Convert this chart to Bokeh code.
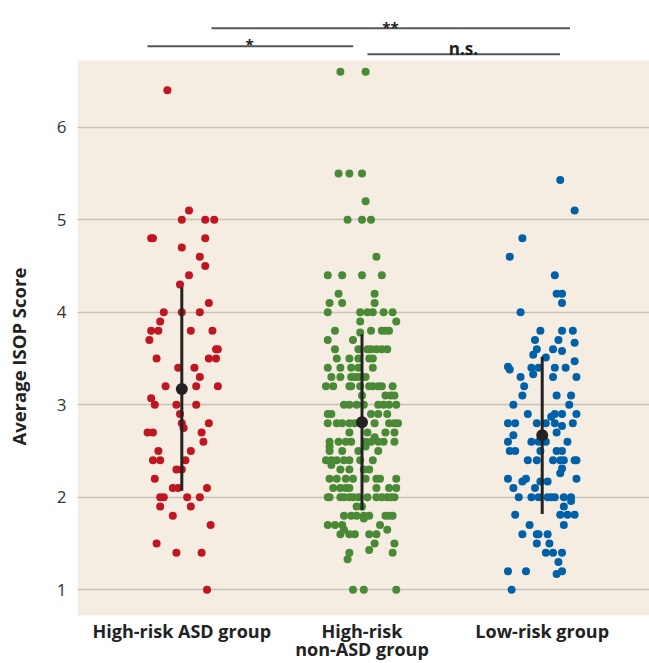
import math
from bokeh.plotting import figure
from bokeh.layouts import row
from bokeh.models import (Range1d, FixedTicker, BoxAnnotation, ColumnDataSource)
from bokeh.core.properties import value
from bokeh.embed import file_html
from bokeh.resources import INLINE

# ---------------- data ----------------
groups_line1 = ["High-risk ASD group", "High-risk", "Low-risk group"]
groups_line2 = ["", "non-ASD group", ""]
group_pos = [1, 2, 3]
colors = ["#BF1622", "#4A8A36", "#0061A9"]
y_title = "Average ISOP Score"

means = [3.17, 2.81, 2.67]
sds = [1.10, 0.95, 0.85]

red_y = [6.4, 5.1, 5.0, 5.0, 5.0, 4.8, 4.8, 4.8, 4.7, 4.6, 4.5, 4.4, 4.3, 4.1,
         4.0, 4.0, 4.0, 3.9, 3.8, 3.8, 3.8, 3.8, 3.7, 3.6, 3.6, 3.5, 3.5, 3.5,
         3.4, 3.4, 3.3, 3.2, 3.2, 3.2, 3.07, 3.0, 3.0, 3.0, 2.9, 2.8, 2.75, 2.8,
         2.7, 2.7, 2.7, 2.6, 2.5, 2.5, 2.4, 2.4, 2.4, 2.3, 2.3, 2.2, 2.1, 2.1,
         2.1, 2.0, 2.0, 2.0, 2.0, 1.9, 1.9, 1.8, 1.7, 1.5, 1.4, 1.4, 1.0]
red_jit = [-0.08, 0.04, 0.00, 0.13, 0.18, -0.17, -0.16, 0.13, 0.00, 0.10, 0.13, 0.04, -0.01, 0.15,
           -0.10, 0.00, 0.10, -0.12, -0.17, -0.13, 0.05, 0.17, -0.18, 0.19, 0.20, -0.14, 0.15, 0.19,
           -0.02, 0.07, 0.10, -0.09, 0.08, 0.20, -0.17, -0.15, -0.03, 0.08, -0.01, 0.00, 0.01, 0.15,
           -0.19, -0.16, 0.11, 0.12, -0.13, 0.05, -0.16, -0.12, 0.02, -0.03, 0.00, -0.15, -0.05, -0.02,
           0.14, -0.12, -0.10, 0.03, 0.10, -0.12, 0.05, -0.05, 0.16, -0.14, -0.03, 0.11, 0.14]

green_y = ([6.6] * 2 + [5.5] * 3 + [5.2] + [5.0] * 3 + [4.6] + [4.4] * 4 + [4.2] * 2 +
           [4.1] * 3 + [4.0] * 6 + [3.9] * 2 + [3.8] * 5 + [3.78] + [3.7] * 2 + [3.6] * 7 +
           [3.5] * 5 + [3.4] * 5 + [3.3] * 6 + [3.2] * 10 + [3.1] * 4 + [3.0] * 8 + [2.9] * 5 +
           [2.8] * 9 + [2.7] * 4 + [2.65] + [2.6] * 9 + [2.55] * 2 + [2.5] * 4 + [2.4] * 7 +
           [2.35] + [2.3] * 4 + [2.2] * 8 + [2.1] * 7 + [2.0] * 13 + [1.9] * 2 + [1.8] * 8 +
           [1.77] + [1.7] * 4 + [1.65] * 2 + [1.6] * 5 + [1.5] * 2 + [1.43] + [1.4] * 2 +
           [1.33] + [1.0] * 3)
green_jit = [-0.12, 0.02,
             -0.13, -0.07, 0.00,
             0.02,
             -0.08, 0.00, 0.05,
             0.08,
             -0.19, -0.11, 0.00, 0.11,
             -0.13, 0.07,
             -0.18, -0.11, 0.07,
             -0.19, -0.01, 0.03, 0.06, 0.12, 0.17,
             -0.01, 0.19,
             -0.15, 0.05, 0.11, 0.13, 0.15,
             -0.01,
             -0.19, -0.05,
             -0.15, -0.02, 0.03, 0.05, 0.08, 0.11, 0.14,
             -0.14, -0.07, -0.02, 0.04, 0.06,
             -0.19, -0.12, -0.06, -0.02, 0.06,
             -0.17, -0.12, -0.06, -0.04, -0.02, 0.02,
             -0.20, -0.16, -0.07, -0.06, -0.01, 0.04, 0.06, 0.09, 0.11, 0.17,
             0.00, 0.13, 0.16, 0.18,
             -0.10, -0.07, -0.03, 0.01, 0.09, 0.12, 0.15, 0.19,
             -0.19, -0.17, 0.05, 0.09, 0.14,
             -0.19, -0.14, -0.11, -0.07, -0.04, 0.07, 0.15, 0.18, 0.20,
             -0.07, 0.03, 0.13, 0.18,
             0.07,
             -0.18, -0.13, -0.09, -0.06, 0.02, 0.05, 0.09, 0.12, 0.18,
             -0.18, 0.02,
             -0.18, -0.11, -0.02, 0.09,
             -0.20, -0.17, -0.14, -0.10, -0.07, -0.01, 0.06,
             -0.17,
             -0.12, -0.07, 0.01, 0.04,
             -0.18, -0.14, -0.09, -0.05, 0.02, 0.08, 0.10, 0.19,
             -0.16, -0.12, -0.09, -0.07, 0.08, 0.15, 0.19,
             -0.19, -0.18, -0.12, -0.10, -0.07, -0.05, -0.02, 0.03, 0.08, 0.11, 0.14, 0.16, 0.18,
             -0.03, 0.00,
             -0.10, -0.06, -0.03, 0.01, 0.04, 0.13, 0.15, 0.17,
             0.01,
             -0.19, -0.15, -0.11, 0.10,
             -0.10, 0.14,
             -0.12, -0.07, -0.04, 0.04, 0.08,
             0.07, 0.18,
             0.04,
             -0.07, 0.17,
             -0.08,
             -0.05, 0.01, 0.19]

blue_y = ([5.43, 5.1, 4.8, 4.6, 4.4] + [4.2] * 2 + [4.1, 4.0] + [3.8] * 3 + [3.7] * 2 +
          [3.67] + [3.6] * 2 + [3.58, 3.54, 3.51, 3.47, 3.41, 3.38] + [3.4] * 4 + [3.33] +
          [3.3] * 3 + [3.2] + [3.1] * 3 + [3.0] * 2 + [2.9] * 4 + [2.87] + [2.8] * 6 +
          [2.77, 2.7, 2.67] + [2.6] * 5 + [2.5] * 5 + [2.4] * 7 + [2.31, 2.26] + [2.2] * 3 +
          [2.17] * 3 + [2.1] * 2 + [2.0] * 8 + [1.96, 1.9] + [1.81] * 4 + [1.7] * 2 +
          [1.6] * 4 + [1.5] * 2 + [1.4] * 3 + [1.3] + [1.2] * 3 + [1.17, 1.0])
blue_jit = [0.10, 0.18, -0.11, -0.18, 0.07,
            0.08, 0.11,
            0.11, -0.12,
            -0.01, 0.11, 0.17,
            -0.04, 0.09,
            0.18,
            -0.03, 0.06,
            0.11, -0.05, 0.02, 0.18, -0.19, -0.18,
            -0.06, -0.02, 0.07, 0.13,
            -0.05,
            -0.12, 0.06, 0.19,
            -0.10,
            -0.11, 0.08, 0.16,
            -0.16, 0.15,
            -0.08, 0.07, 0.11, 0.19,
            0.05,
            -0.19, -0.15, -0.03, 0.02, 0.07, 0.17,
            0.11, 0.08, -0.16,
            -0.19, -0.06, -0.02, 0.02, 0.14,
            -0.18, -0.15, -0.01, 0.08, 0.11,
            -0.08, -0.03, 0.06, 0.10, 0.12, 0.18, 0.19,
            0.11, 0.10,
            -0.19, -0.09, 0.19,
            -0.11, -0.01, 0.03,
            -0.16, -0.04,
            -0.13, -0.06, -0.02, 0.03, 0.05, 0.07, 0.12, 0.16,
            0.16, 0.12,
            -0.15, 0.10, 0.14, 0.18,
            -0.07, 0.12,
            -0.11, -0.03, -0.02, 0.03,
            -0.03, 0.04,
            0.02, 0.06, 0.11,
            0.09,
            -0.19, -0.09, 0.11,
            0.08, -0.17]

y_ticks = [1, 2, 3, 4, 5, 6]

# ---------------- figure ----------------
BEIGE = "#F5EDE1"
TXT = "#222222"
FONT = "Open Sans"
TOTAL_H = 663
TITLE_W = 36

y_rng = Range1d(0.2034, 7.3694)

# narrow figure that carries the y-axis title
pt = figure(width=TITLE_W, height=TOTAL_H, output_backend="svg", toolbar_location=None,
            x_axis_location=None, y_axis_location=None,
            x_range=Range1d(0, 1), y_range=y_rng,
            min_border_left=0, min_border_right=0, min_border_top=0, min_border_bottom=0)
pt.outline_line_color = None
pt.grid.visible = False
pt.background_fill_color = "white"
pt.border_fill_color = "white"
pt.text(x=[0.5], y=[3.52], text=[y_title], angle=math.pi / 2, text_align="center",
        text_baseline="middle", text_font=value(FONT), text_font_style="bold",
        text_font_size="18.5px", text_color=TXT)

p = figure(width=649 - TITLE_W, height=TOTAL_H, output_backend="svg", toolbar_location=None,
           x_axis_location=None,
           x_range=Range1d(0.4212, 3.5954), y_range=y_rng,
           min_border_left=77 - TITLE_W, min_border_right=0, min_border_top=0, min_border_bottom=0)
p.background_fill_color = "white"
p.border_fill_color = "white"
p.outline_line_color = None

bg = BoxAnnotation(bottom=0.7222, top=6.721, fill_color=BEIGE, fill_alpha=1.0,
                   line_color=None, level="image")
p.add_layout(bg)

p.xgrid.visible = False
p.ygrid.ticker = FixedTicker(ticks=y_ticks)
p.ygrid.grid_line_color = "#C9C1B9"
p.ygrid.grid_line_width = 1.6

# y axis
p.yaxis.ticker = FixedTicker(ticks=y_ticks)
p.yaxis.axis_line_color = None
p.yaxis.major_tick_line_color = None
p.yaxis.minor_tick_line_color = None
p.yaxis.major_tick_out = 0
p.yaxis.major_tick_in = 0
p.yaxis.major_label_standoff = 11
p.yaxis.major_label_text_font = FONT
p.yaxis.major_label_text_font_size = "17px"
p.yaxis.major_label_text_color = "#333333"

# category labels under the plotting area
p.text(x=group_pos, y=[0.56] * 3, text=groups_line1, text_align="center",
       text_baseline="middle", text_font=value(FONT), text_font_style="bold",
       text_font_size="18px", text_color=TXT)
p.text(x=group_pos, y=[0.356] * 3, text=groups_line2, text_align="center",
       text_baseline="middle", text_font=value(FONT), text_font_style="bold",
       text_font_size="18px", text_color=TXT)

# points
for pos, ys, jit, col in zip(group_pos, [red_y, green_y, blue_y],
                             [red_jit, green_jit, blue_jit], colors):
    src = ColumnDataSource(dict(x=[pos + j for j in jit], y=ys))
    p.scatter("x", "y", source=src, size=8, fill_color=col, line_color=None)

# mean +/- sd
p.segment(x0=group_pos, x1=group_pos,
          y0=[m - s for m, s in zip(means, sds)], y1=[m + s for m, s in zip(means, sds)],
          line_color=TXT, line_width=3)
p.scatter(x=group_pos, y=means, size=12, fill_color=TXT, line_color=None)

# significance brackets
br_x0 = [0.81, 1.165, 2.03]
br_x1 = [1.951, 3.154, 3.099]
br_y = [6.8755, 7.070, 6.789]
p.segment(x0=br_x0, x1=br_x1, y0=br_y, y1=br_y, line_color="#555555", line_width=2)
p.text(x=[1.376, 2.158], y=[6.894, 7.088], text=["*", "**"], text_align="center",
       text_baseline="alphabetic", text_font=value(FONT), text_font_style="bold",
       text_font_size="15px", text_color=TXT)
p.text(x=[2.563], y=[6.847], text=["n.s."], text_align="center",
       text_baseline="alphabetic", text_font=value(FONT), text_font_style="bold",
       text_font_size="17px", text_color=TXT)

layout = row(pt, p, spacing=0)
open("out.html", "w").write(file_html(layout, INLINE))
